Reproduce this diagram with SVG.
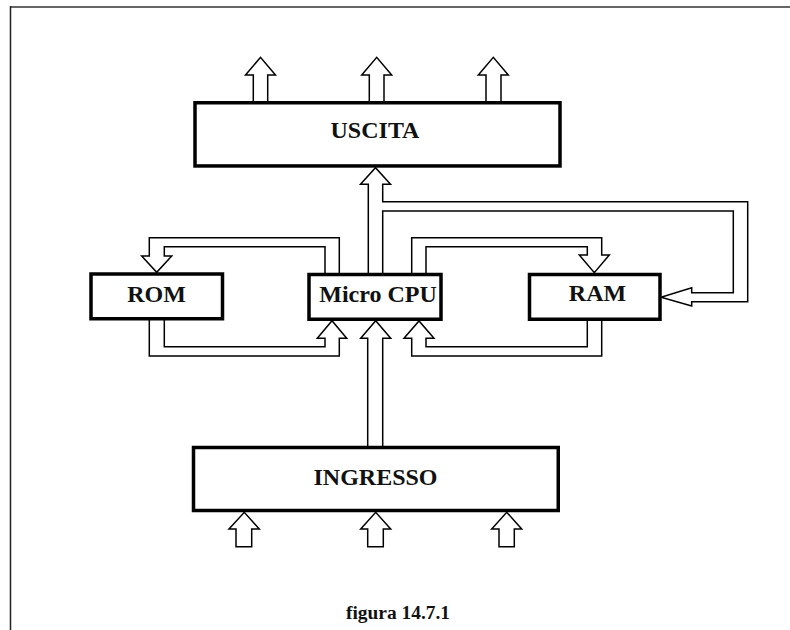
<svg xmlns="http://www.w3.org/2000/svg" width="790" height="630" viewBox="0 0 790 630">
  <style>
    .box { fill: #fff; stroke: #000; stroke-width: 3.5; }
    .bus { fill: #fff; stroke: #000; stroke-width: 1.5; stroke-linejoin: miter; }
    .lbl { font-family: "Liberation Serif", "Times New Roman", serif; font-weight: bold; font-size: 24px; fill: #111; text-anchor: middle; }
    .cap { font-family: "Liberation Serif", "Times New Roman", serif; font-weight: bold; font-size: 18px; fill: #111; text-anchor: middle; }
  </style>
  <rect x="0" y="0" width="790" height="630" fill="#fff"/>

  <!-- page frame -->
  <line x1="10" y1="7" x2="790" y2="7" stroke="#666" stroke-width="2"/>
  <line x1="10.5" y1="6" x2="10.5" y2="630" stroke="#222" stroke-width="1.5"/>

  <g id="connectors">
    <!-- outputs from USCITA -->
    <polyline class="bus" points="253.3,102 253.3,75 245.5,75 260.5,57.3 275.5,75 267.7,75 267.7,102"/>
    <polyline class="bus" points="369.3,102 369.3,75 361.7,75 376.7,57.3 391.7,75 384,75 384,102"/>
    <polyline class="bus" points="486,102 486,75 478.3,75 493.3,57.3 508.3,75 501,75 501,102"/>

    <!-- CPU bus to USCITA and to RAM -->
    <polyline class="bus" points="368.3,273 368.3,184.3 360.5,184.3 375.5,167.7 390.5,184.3 382.7,184.3 382.7,201.7 747.7,201.7 747.7,301.7 691.7,301.7 691.7,306 661,297.2 691.7,287.7 691.7,292.7 733.3,292.7 733.3,211 382.7,211 382.7,273"/>

    <!-- CPU to ROM -->
    <polyline class="bus" points="325,273 325,246.7 164.3,246.7 164.3,256 171.7,256 156.7,272.3 141.7,256 149.3,256 149.3,237.7 339.3,237.7 339.3,273"/>
    <!-- ROM to CPU -->
    <polyline class="bus" points="149.3,320 149.3,356 339.3,356 339.3,338.3 346.7,338.3 332,320.7 317.3,338.3 325,338.3 325,346.7 164.3,346.7 164.3,320"/>

    <!-- CPU to RAM -->
    <polyline class="bus" points="411.7,273 411.7,237.7 601.7,237.7 601.7,255 609.3,255 594.3,272.7 579.3,255 587.3,255 587.3,246.7 426,246.7 426,273"/>
    <!-- RAM to CPU -->
    <polyline class="bus" points="601.7,320 601.7,356 411.7,356 411.7,338.3 404,338.3 419,321 434,338.3 426,338.3 426,346.7 587.3,346.7 587.3,320"/>

    <!-- INGRESSO to CPU -->
    <polyline class="bus" points="367.7,446 367.7,338.3 360.7,338.3 375.7,320.7 390.7,338.3 382.7,338.3 382.7,446"/>

    <!-- inputs to INGRESSO -->
    <polygon class="bus" points="236,546.7 236,529 229,529 244.3,512.3 259.3,529 251.7,529 251.7,546.7"/>
    <polygon class="bus" points="367.7,546.7 367.7,529 360.7,529 375.7,512.3 390.7,529 383.3,529 383.3,546.7"/>
    <polygon class="bus" points="499,546.7 499,529 491.7,529 506.7,512.3 521.7,529 514.3,529 514.3,546.7"/>
  </g>

  <g id="uscita">
    <rect class="box" x="195" y="102.75" width="365" height="63.2"/>
    <text class="lbl" x="375" y="138.3">USCITA</text>
  </g>

  <g id="rom">
    <rect class="box" x="91" y="274" width="131.5" height="44.75"/>
    <text class="lbl" x="156.5" y="302.3">ROM</text>
  </g>

  <g id="cpu">
    <rect class="box" x="309" y="274.5" width="132" height="44.75"/>
    <text class="lbl" x="378" y="301.7">Micro CPU</text>
  </g>

  <g id="ram">
    <rect class="box" x="529.5" y="274.5" width="130.5" height="44.75"/>
    <text class="lbl" x="597.5" y="300.5">RAM</text>
  </g>

  <g id="ingresso">
    <rect class="box" x="193.5" y="447.5" width="364.75" height="63"/>
    <text class="lbl" x="375.5" y="485">INGRESSO</text>
  </g>

  <text class="cap" x="398" y="619" textLength="104" lengthAdjust="spacingAndGlyphs">figura 14.7.1</text>
</svg>
